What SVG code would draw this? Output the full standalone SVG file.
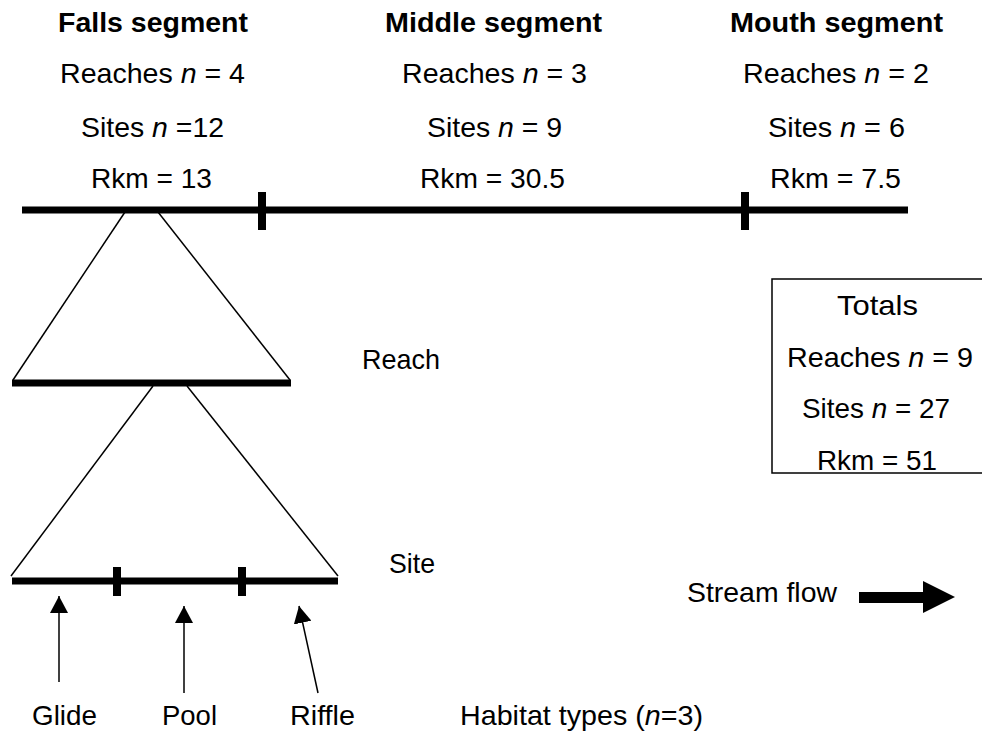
<svg xmlns="http://www.w3.org/2000/svg" width="982" height="739" viewBox="0 0 982 739">
  <style>
    text { font-family: "Liberation Sans", Arial, sans-serif; font-size: 28px; fill: #000; }
    .title { font-weight: bold; }
    .thick { stroke: #000; stroke-width: 7; fill: none; }
    .tick { stroke: #000; stroke-width: 8; fill: none; }
    .thin { stroke: #000; stroke-width: 1.5; fill: none; }
    .ptr { stroke: #000; stroke-width: 1.5; fill: none; }
  </style>
  <defs>
    <marker id="head" viewBox="0 0 10 10" refX="10" refY="5" markerWidth="17" markerHeight="18" markerUnits="userSpaceOnUse" preserveAspectRatio="none" orient="auto">
      <path d="M0,0 L10,5 L0,10 Z" fill="#000"/>
    </marker>
  </defs>
  <rect width="982" height="739" fill="#fff"/>

  <!-- segment headings -->
  <g id="falls">
    <text class="title" x="58" y="32" textLength="190" lengthAdjust="spacingAndGlyphs">Falls segment</text>
    <text x="60" y="83" textLength="185" lengthAdjust="spacingAndGlyphs">Reaches <tspan font-style="italic">n</tspan> = 4</text>
    <text x="81" y="137" textLength="143" lengthAdjust="spacingAndGlyphs">Sites <tspan font-style="italic">n</tspan> =12</text>
    <text x="91" y="188" textLength="121" lengthAdjust="spacingAndGlyphs">Rkm = 13</text>
  </g>
  <g id="middle">
    <text class="title" x="385" y="32" textLength="217" lengthAdjust="spacingAndGlyphs">Middle segment</text>
    <text x="402" y="83" textLength="185" lengthAdjust="spacingAndGlyphs">Reaches <tspan font-style="italic">n</tspan> = 3</text>
    <text x="427" y="137" textLength="135" lengthAdjust="spacingAndGlyphs">Sites <tspan font-style="italic">n</tspan> = 9</text>
    <text x="420" y="188" textLength="145" lengthAdjust="spacingAndGlyphs">Rkm = 30.5</text>
  </g>
  <g id="mouth">
    <text class="title" x="730" y="32" textLength="213" lengthAdjust="spacingAndGlyphs">Mouth segment</text>
    <text x="743" y="83" textLength="186" lengthAdjust="spacingAndGlyphs">Reaches <tspan font-style="italic">n</tspan> = 2</text>
    <text x="768" y="137" textLength="137" lengthAdjust="spacingAndGlyphs">Sites <tspan font-style="italic">n</tspan> = 6</text>
    <text x="770" y="188" textLength="131" lengthAdjust="spacingAndGlyphs">Rkm = 7.5</text>
  </g>

  <!-- river line with segment breaks -->
  <g id="river">
    <line class="thick" x1="22" y1="210" x2="908" y2="210"/>
    <line class="tick" x1="262" y1="192" x2="262" y2="230"/>
    <line class="tick" x1="745" y1="192" x2="745" y2="230"/>
  </g>

  <!-- reach expansion -->
  <g id="reach">
    <polyline class="thin" points="125,212 13,380"/>
    <polyline class="thin" points="158,212 290,380"/>
    <line class="thick" x1="12" y1="383" x2="291" y2="383"/>
    <text x="362" y="369" textLength="78" lengthAdjust="spacingAndGlyphs">Reach</text>
  </g>

  <!-- site expansion -->
  <g id="site">
    <polyline class="thin" points="153,386 11,576"/>
    <polyline class="thin" points="187,386 338,576"/>
    <line class="thick" x1="12" y1="581" x2="338" y2="581"/>
    <line class="tick" x1="117" y1="567" x2="117" y2="596"/>
    <line class="tick" x1="242" y1="567" x2="242" y2="596"/>
    <text x="389" y="573" textLength="46" lengthAdjust="spacingAndGlyphs">Site</text>
  </g>

  <!-- habitat labels -->
  <g id="glide"><text x="32" y="725" textLength="65" lengthAdjust="spacingAndGlyphs">Glide</text></g>
  <g id="pool"><text x="162" y="725" textLength="55" lengthAdjust="spacingAndGlyphs">Pool</text></g>
  <g id="riffle"><text x="290" y="725" textLength="65" lengthAdjust="spacingAndGlyphs">Riffle</text></g>
  <g id="habitat-types">
    <text x="460" y="725" textLength="243" lengthAdjust="spacingAndGlyphs">Habitat types (<tspan font-style="italic">n</tspan>=3)</text>
  </g>

  <!-- pointers from habitat labels -->
  <g id="connectors">
    <line class="ptr" x1="59" y1="682" x2="59" y2="596" marker-end="url(#head)"/>
    <line class="ptr" x1="184" y1="693" x2="184" y2="606" marker-end="url(#head)"/>
    <line class="ptr" x1="318" y1="693" x2="299" y2="606" marker-end="url(#head)"/>
  </g>

  <!-- totals box -->
  <g id="totals">
    <rect x="772" y="279" width="220" height="194" fill="none" stroke="#000" stroke-width="1.5"/>
    <text x="837" y="315" textLength="81" lengthAdjust="spacingAndGlyphs">Totals</text>
    <text x="787" y="367" textLength="186" lengthAdjust="spacingAndGlyphs">Reaches <tspan font-style="italic">n</tspan> = 9</text>
    <text x="802" y="418" textLength="148" lengthAdjust="spacingAndGlyphs">Sites <tspan font-style="italic">n</tspan> = 27</text>
    <text x="817" y="470" textLength="120" lengthAdjust="spacingAndGlyphs">Rkm = 51</text>
  </g>

  <!-- flow direction -->
  <g id="stream-flow">
    <text x="687" y="602" textLength="150" lengthAdjust="spacingAndGlyphs">Stream flow</text>
    <path d="M859,592 L923,592 L923,581 L955,597 L923,613 L923,603 L859,603 Z" fill="#000"/>
  </g>
</svg>
